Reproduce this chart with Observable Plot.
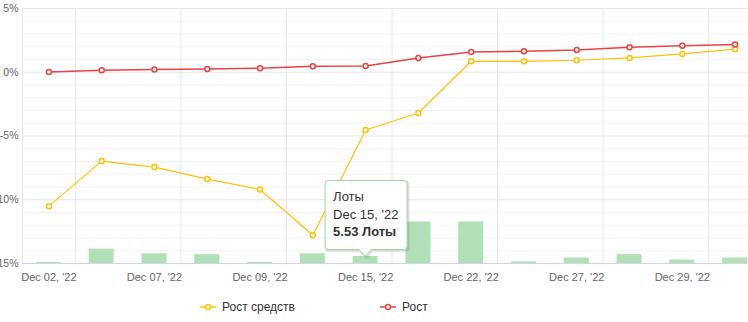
<!DOCTYPE html>
<html>
<head>
<meta charset="utf-8">
<script src="https://cdn.jsdelivr.net/npm/d3@7"></script>
<script src="https://cdn.jsdelivr.net/npm/@observablehq/plot@0.6"></script>
<style>
html, body { margin: 0; padding: 0; background: #fff; overflow: hidden; }
#wrap { position: relative; width: 748px; height: 322px; font-family: "Liberation Sans", Arial, sans-serif; }
#legend { position: relative; height: 37px; font-size: 12px; color: #333; }
.item { position: absolute; top: 15px; display: flex; align-items: center; white-space: nowrap; line-height: 14px; }
.item svg { display: block; margin-right: 6px; }
#tip { position: absolute; left: 0; top: 0; pointer-events: none; overflow: visible; }
</style>
</head>
<body>
<div id="wrap"></div>
<script>
// ---- data ----
const dates = ["Dec 02, '22", "Dec 05, '22", "Dec 07, '22", "Dec 08, '22", "Dec 09, '22", "Dec 13, '22", "Dec 15, '22",
               "Dec 20, '22", "Dec 22, '22", "Dec 23, '22", "Dec 27, '22", "Dec 28, '22", "Dec 29, '22", "Dec 30, '22"];
const growth = [0.02, 0.16, 0.21, 0.26, 0.31, 0.47, 0.49, 1.12, 1.59, 1.65, 1.75, 1.96, 2.07, 2.18];          // Рост, %
const fundsGrowth = [-10.5, -6.97, -7.44, -8.38, -9.19, -12.78, -4.53, -3.2, 0.86, 0.86, 0.94, 1.12, 1.44, 1.81]; // Рост средств, %
const lots = [0.8, 11.3, 7.6, 6.9, 0.8, 7.6, 5.53, 32.6, 32.6, 1.3, 4.3, 6.9, 2.7, 4.3];                       // Лоты
const labelDates = ["Dec 02, '22", "Dec 07, '22", "Dec 09, '22", "Dec 15, '22", "Dec 22, '22", "Dec 27, '22", "Dec 29, '22"];
const yMajorTicks = [-15, -10, -5, 0, 5];
const yMinorTicks = [-14, -13, -12, -11, -9, -8, -7, -6, -4, -3, -2, -1, 1, 2, 3, 4];
const yDomain = [-15, 5];
const lotsAxisMax = 200;      // hidden secondary axis for Лоты
const seriesNames = ["Рост средств", "Рост"];
const tipDate = "Dec 15, '22";
const tipLots = 5.53;

const colFunds = "#ffc107";
const colGrowth = "#ec4242";
const colBars = "#b2e0b6";

const rows = dates.map((d, i) => ({date: d, growth: growth[i], funds: fundsGrowth[i], lots: lots[i]}));
const lotsToY = v => yDomain[0] + v / lotsAxisMax * (yDomain[1] - yDomain[0]);

const W = 748, H = 285, mt = 8, mb = 22;
const xRange = [22, 761];
const step = (xRange[1] - xRange[0]) / dates.length;
const barW = 25;
const gridDates = dates.filter((d, i) => i % 2 === 0);

const plot = Plot.plot({
  width: W, height: H,
  marginTop: mt, marginBottom: mb, marginLeft: 22, marginRight: 0,
  style: {fontFamily: "Liberation Sans, Arial, sans-serif", fontSize: "11px", color: "#666", background: "transparent", overflow: "hidden"},
  x: {type: "band", domain: dates, range: xRange, padding: 0, round: false},
  y: {domain: yDomain, range: [H - mb, mt]},
  marks: [
    Plot.ruleY(yMinorTicks, {stroke: "#f3f3f3"}),
    Plot.ruleY(yMajorTicks, {stroke: "#e6e6e6"}),
    Plot.ruleX(gridDates, {x: d => d, dx: step / 2, stroke: "#e6e6e6"}),
    Plot.ruleX([dates[0]], {x: d => d, dx: -step / 2, stroke: "#e6e6e6"}),
    Plot.barY(rows, {x: "date", y1: yDomain[0], y2: d => lotsToY(d.lots), fill: colBars,
                     insetLeft: (step - barW) / 2, insetRight: (step - barW) / 2}),
    Plot.ruleY([yDomain[0]], {stroke: "#ccd6eb"}),
    Plot.line(rows, {x: "date", y: "funds", stroke: colFunds, strokeWidth: 1.2}),
    Plot.dot(rows, {x: "date", y: "funds", r: 2.5, fill: "white", stroke: colFunds, strokeWidth: 1.5}),
    Plot.line(rows, {x: "date", y: "growth", stroke: colGrowth, strokeWidth: 1.5}),
    Plot.dot(rows, {x: "date", y: "growth", r: 2.5, fill: "white", stroke: colGrowth, strokeWidth: 1.5}),
    Plot.axisX({ticks: labelDates, tickSize: 0, tickPadding: 10, fill: "#666", label: null}),
    Plot.axisY({ticks: yMajorTicks, tickSize: 0, tickPadding: 4, fill: "#666", label: null, fontSize: 10.5,
                tickFormat: d => `${d}%`})
  ]
});

const wrap = document.getElementById("wrap");
wrap.appendChild(plot);

// ---- tooltip, positioned from the plot's scales ----
const xs = plot.scale("x"), ys = plot.scale("y");
let xc, yTop;
if (xs && typeof xs.apply === "function") {
  xc = xs.apply(tipDate) + (xs.bandwidth || step) / 2;
  yTop = ys.apply(lotsToY(tipLots));
} else {
  xc = xRange[0] + step * (dates.indexOf(tipDate) + 0.5);
  yTop = (H - mb) - (lotsToY(tipLots) - yDomain[0]) / (yDomain[1] - yDomain[0]) * (H - mb - mt);
}
const bw = 82, bh = 69, ah = 7, aw = 6, rr = 3;
const tipY = yTop + 0.5;
const bx = xc - bw / 2 + 1, by = tipY - ah - bh;
const pathD = `M${bx + rr},${by} H${bx + bw - rr} Q${bx + bw},${by} ${bx + bw},${by + rr} V${by + bh - rr} Q${bx + bw},${by + bh} ${bx + bw - rr},${by + bh}
  H${xc + aw} L${xc},${tipY} L${xc - aw},${by + bh} H${bx + rr} Q${bx},${by + bh} ${bx},${by + bh - rr} V${by + rr} Q${bx},${by} ${bx + rr},${by} Z`;
const NS = "http://www.w3.org/2000/svg";
const tip = document.createElementNS(NS, "svg");
tip.setAttribute("id", "tip");
tip.setAttribute("width", W);
tip.setAttribute("height", H);
tip.innerHTML = `
  <path d="${pathD}" transform="translate(1.5,1.5)" fill="none" stroke="#000" stroke-opacity="0.06" stroke-width="3"/>
  <path d="${pathD}" transform="translate(1,1)" fill="none" stroke="#000" stroke-opacity="0.08" stroke-width="1.5"/>
  <path d="${pathD}" fill="rgba(255,255,255,0.96)" stroke="#9ad5a2" stroke-width="1"/>
  <text font-family="Liberation Sans, Arial, sans-serif" font-size="13" fill="#333">
    <tspan x="${bx + 8}" y="${by + 21}">Лоты</tspan>
    <tspan x="${bx + 8}" y="${by + 38.5}">${tipDate}</tspan>
    <tspan x="${bx + 8}" y="${by + 56}" font-weight="bold">${tipLots} Лоты</tspan>
  </text>`;
wrap.appendChild(tip);

// ---- legend below the chart ----
const legend = document.createElement("div");
legend.id = "legend";
const legendColors = [colFunds, colGrowth];
const legendLeft = [200, 380];
seriesNames.forEach((name, i) => {
  const it = document.createElement("div");
  it.className = "item";
  it.style.left = legendLeft[i] + "px";
  it.innerHTML = `<svg width="16" height="10"><line x1="0" x2="16" y1="5" y2="5" stroke="${legendColors[i]}" stroke-width="2" stroke-opacity="0.75"/>
    <circle cx="8" cy="5" r="2.5" fill="white" stroke="${legendColors[i]}" stroke-width="1.5"/></svg><span>${name}</span>`;
  legend.appendChild(it);
});
wrap.appendChild(legend);
</script>
</body>
</html>
